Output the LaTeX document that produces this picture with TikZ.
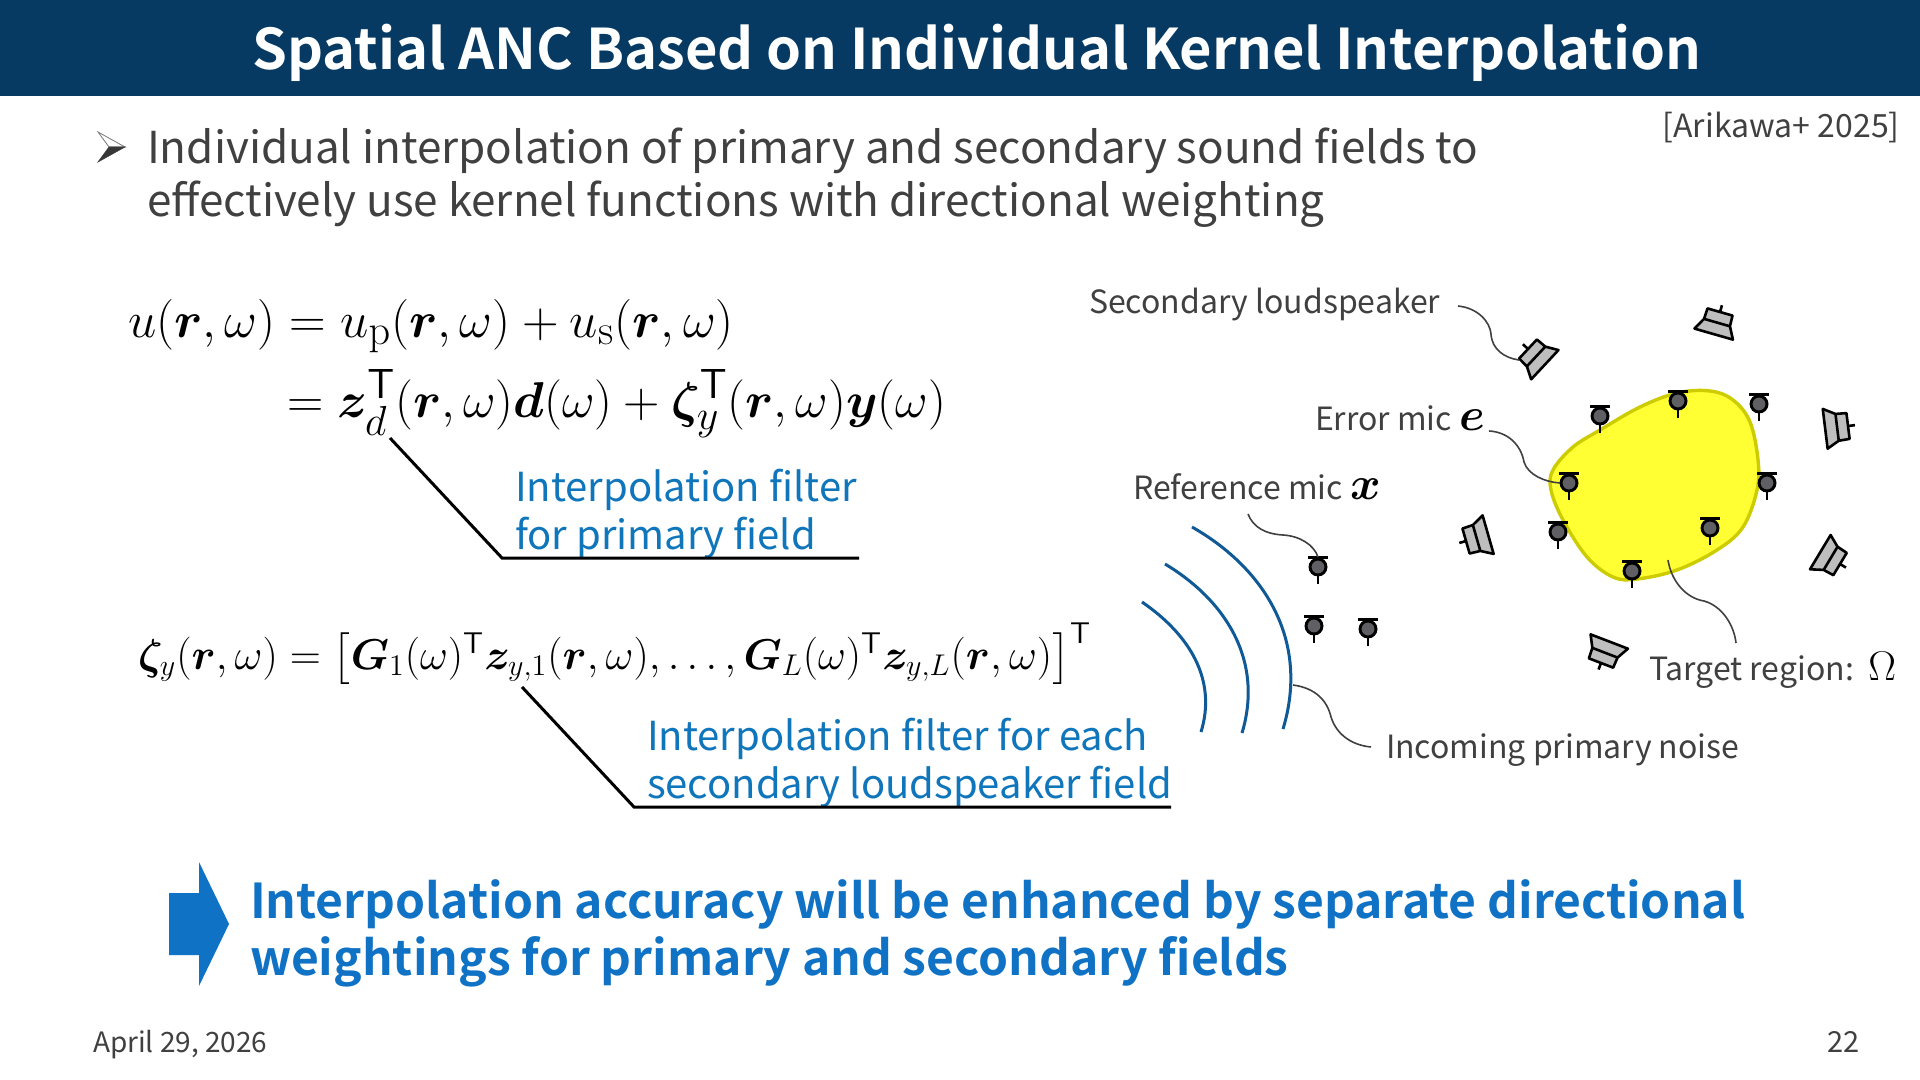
\documentclass[tikz,border=0pt]{standalone}
\usepackage{graphicx}
\usepackage{amsmath,amssymb,bm}
\usepackage[no-math]{fontspec}
\setmainfont{Noto Sans CJK JP}[BoldFont={Noto Sans CJK JP Bold}]
\definecolor{hdr}{HTML}{063A63}
\definecolor{txt}{HTML}{404040}
\definecolor{lblue}{HTML}{0F76BC}
\definecolor{bblue}{HTML}{0F72C4}
\definecolor{wave}{HTML}{0F5A96}
\definecolor{blobfill}{HTML}{FFFF33}
\definecolor{blobline}{HTML}{CCCC00}
\definecolor{micgray}{HTML}{606064}
\definecolor{spkgray}{HTML}{BEBEBE}
\newcommand{\tp}{\mathsf{T}}
\newcommand{\fs}[1]{\fontsize{#1}{#1}\selectfont}
\newcommand{\bigmath}[1]{\textcolor{black}{\scalebox{1.12}{\fs{20.74}$\bm{#1}$}}}
\tikzset{
 x=0.5pt,y=-0.5pt,
 body/.style={anchor=base west,inner sep=0pt,outer sep=0pt,text=txt,font=\fs{22}},
 small/.style={anchor=base west,inner sep=0pt,outer sep=0pt,text=txt,font=\fs{16}},
 bluelabel/.style={anchor=base west,inner sep=0pt,outer sep=0pt,text=lblue,font=\fs{20}},
 concl/.style={anchor=base west,inner sep=0pt,outer sep=0pt,text=bblue,font=\fs{24}\bfseries},
 eqn/.style={anchor=base west,inner sep=0pt,outer sep=0pt,text=black,font=\fs{24.88}},
 leader/.style={draw=txt,line width=0.8pt},
 bracket/.style={draw=black,line width=1.5pt,line join=miter},
 wavearc/.style={draw=wave,line width=1.5pt},
 micpic/.pic={
   \draw[black,line width=1.45pt] (-10,-9.3) -- (10,-9.3);
   \draw[black,line width=1.45pt] (0,7) -- (0,16.5);
   \draw[black,line width=1.45pt,fill=micgray] (0,0) circle (8);
 },
 spkpic/.pic={
   \draw[black,line width=1.3pt] (-7,0) -- (0,0);
   \draw[black,line width=1.3pt,fill=spkgray,line join=round] (0,-13) -- (0,13) -- (11,13.5) -- (23,20) -- (23,-20) -- (11,-13.5) -- cycle;
   \draw[black,line width=1.3pt] (11,-13.5) -- (11,13.5);
 },
}
\begin{document}
\begin{tikzpicture}
\useasboundingbox (0,0) rectangle (1920,1080);
\fill[white] (0,0) rectangle (1920,1080);
\fill[hdr] (0,0) rectangle (1920,96);
\node[anchor=base,inner sep=0pt,text=white,font=\fs{28}\bfseries] (title) at (977,70) {Spatial ANC Based on Individual Kernel Interpolation};
\node[anchor=base east,inner sep=0pt,text=txt,font=\fs{16}] (cite) at (1900,138) {[Arikawa+ 2025]};
% bullet
\fill[white,draw=txt!70,line width=0.4pt] (98,132) -- (125,147) -- (109,147) -- cycle;
\fill[txt!85!black,draw=txt,line width=0.3pt] (125,147) -- (98,162) -- (109,147) -- cycle;
\node[body] (b1) at (147,164) {Individual interpolation of primary and secondary sound fields to};
\node[body] (b2) at (147,217) {effectively use kernel functions with directional weighting};
% equations
\node[eqn] (e1) at (128,337) {\scalebox{1.02}{$u(\bm{r},\omega)=u_{\mathrm{p}}(\bm{r},\omega)+u_{\mathrm{s}}(\bm{r},\omega)$}};
\node[eqn] (e2) at (287,417) {\scalebox{1.012}{$=\bm{z}_d^{\tp}(\bm{r},\omega)\bm{d}(\omega)+\bm{\zeta}_y^{\tp}(\bm{r},\omega)\bm{y}(\omega)$}};
\node[eqn,font=\fs{20.74}] (e3) at (138,669) {\scalebox{1.04}{$\bm{\zeta}_y(\bm{r},\omega)=\bigl[\bm{G}_1(\omega)^{\tp}\bm{z}_{y,1}(\bm{r},\omega),\dots,\bm{G}_L(\omega)^{\tp}\bm{z}_{y,L}(\bm{r},\omega)\bigr]^{\tp}$}};
% filter labels
\node[bluelabel] (f1) at (515,501) {Interpolation filter};
\node[bluelabel] (f2) at (515,549) {for primary field};
\node[bluelabel] (f3) at (647,750) {Interpolation filter for each};
\node[bluelabel] (f4) at (647,798) {secondary loudspeaker field};
\coordinate (p1a) at (390,438); \coordinate (p1b) at (502,558); \coordinate (p1c) at (859,558);
\coordinate (p2a) at (522,687); \coordinate (p2b) at (634,807); \coordinate (p2c) at (1171,807);
\draw[bracket] (p1a) -- (p1b) -- (p1c);
\draw[bracket] (p2a) -- (p2b) -- (p2c);
% conclusion
\node[concl] (c1) at (250,918) {Interpolation accuracy will be enhanced by separate directional};
\node[concl] (c2) at (250,975) {weightings for primary and secondary fields};
\fill[bblue] (169,893) -- (199,893) -- (199,862) -- (229,924) -- (199,986) -- (199,955) -- (169,955) -- cycle;
% footer
\node[small,font=\fs{14}] (date) at (93,1052) {April 29, 2026};
\node[anchor=base east,inner sep=0pt,text=txt,font=\fs{14.5}] (pg) at (1860,1052) {22};
% blob
\draw[fill=blobfill,draw=blobline,line width=1.7pt] plot[smooth cycle,tension=0.6] coordinates {
 (1710,391) (1733,400) (1750,422) (1758,460) (1757,490) (1743,527) (1717,550)
 (1677,570) (1637,579) (1613,577) (1587,557) (1563,520) (1551,490) (1553,470)
 (1573,447) (1600,430) (1640,407) (1677,393)};
% mics
\path (1600,416) pic {micpic};
\path (1678,401) pic {micpic};
\path (1759,404) pic {micpic};
\path (1767,483) pic {micpic};
\path (1569,483) pic {micpic};
\path (1558,532) pic {micpic};
\path (1710,528) pic {micpic};
\path (1632,571) pic {micpic};
\path (1318,567) pic {micpic};
\path (1314,626) pic {micpic};
\path (1368,629) pic {micpic};
% speakers
\path (1528,349) pic[rotate=-43] {spkpic};
\path (1720,312) pic[rotate=-106] {spkpic};
\path (1848,426) pic[rotate=-173] {spkpic};
\path (1840,564) pic[rotate=149] {spkpic};
\path (1601,663) pic[rotate=69] {spkpic};
\path (1466,541) pic[rotate=16] {spkpic};
% waves
\draw[wavearc] (1192,527) .. controls (1264,568) and (1310,640) .. (1283,729);
\draw[wavearc] (1165,564) .. controls (1225,600) and (1264,660) .. (1242,733);
\draw[wavearc] (1142,602) .. controls (1190,635) and (1217,680) .. (1201,732);
% labels
\node[small] (l1) at (1089,314) {Secondary loudspeaker};
\node[small] (l2) at (1315,430) {Error mic \bigmath{e}};
\node[small] (l3) at (1133,499) {Reference mic \bigmath{x}};
\node[small] (l4) at (1649,680) {Target region:\ \ \textcolor{black}{\fs{20.74}$\Omega$}};
\node[small] (l5) at (1386,758) {Incoming primary noise};
% leaders
\coordinate (a1) at (1458,306); \coordinate (a2) at (1519,360);
\draw[leader] (a1) .. controls (1478,308) and (1490,322) .. (1491,334) .. controls (1492,350) and (1505,358) .. (a2);
\coordinate (b1s) at (1489,431); \coordinate (b1e) at (1560,483);
\draw[leader] (b1s) .. controls (1508,432) and (1521,445) .. (1524,462) .. controls (1528,475) and (1545,482) .. (b1e);
\coordinate (c1s) at (1248,514); \coordinate (c1e) at (1318,557);
\draw[leader] (c1s) .. controls (1253,527) and (1265,534) .. (1283,535) .. controls (1300,536) and (1314,545) .. (c1e);
\coordinate (d1s) at (1293,685); \coordinate (d1e) at (1371,747);
\draw[leader] (d1s) .. controls (1315,688) and (1327,700) .. (1331,717) .. controls (1336,733) and (1350,745) .. (d1e);
\coordinate (e1s) at (1668,560); \coordinate (e1e) at (1736,643);
\draw[leader] (e1s) .. controls (1671,580) and (1685,598) .. (1704,601) .. controls (1722,606) and (1734,625) .. (e1e);
\end{tikzpicture}
\end{document}
